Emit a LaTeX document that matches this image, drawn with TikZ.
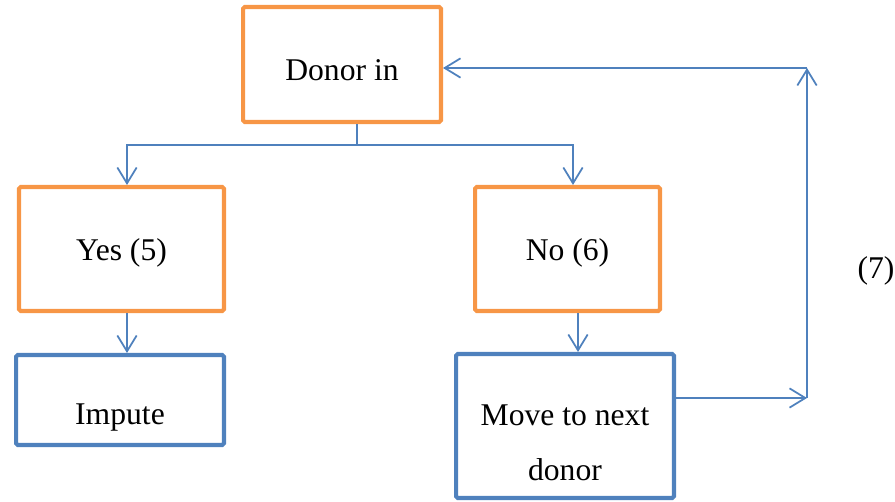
\documentclass[tikz,border=0pt]{standalone}
\usepackage{fontspec}
\setmainfont{Liberation Serif}
\usetikzlibrary{arrows.meta,positioning}
\definecolor{askorange}{RGB}{247,150,70}
\definecolor{actblue}{RGB}{79,129,189}

\begin{document}
\begin{tikzpicture}[
    x=0.02cm, y=-0.02cm,
    every node/.style={
        font=\fontsize{18}{31}\selectfont,
        align=center,
        inner sep=0pt
    },
    ask/.style={draw=askorange, line width=2.3pt, rounded corners=1pt},
    act/.style={draw=actblue, line width=2.3pt, rounded corners=1pt},
    flow/.style={draw=actblue, line width=1pt,
        -{Straight Barb[length=9pt,width=11pt,line width=1pt]}}
]
\useasboundingbox (0,0) rectangle (895,502);

% questions
\node[ask, minimum width=3.96cm, minimum height=2.3cm] (donor) at (342,64.5) {\raisebox{-9pt}[0pt][0pt]{Donor in}};
\node[ask, minimum width=4.1cm, minimum height=2.48cm] (yes) at (121.5,249) {\raisebox{-6.5pt}[0pt][0pt]{Yes (5)}};
\node[ask, minimum width=3.7cm, minimum height=2.48cm] (no) at (567.5,249) {\raisebox{-6.5pt}[0pt][0pt]{No (6)}};

% actions
\node[act, minimum width=4.16cm, minimum height=1.8cm] (impute) at (120,400) {\raisebox{-14pt}[0pt][0pt]{Impute}};
\node[act, minimum width=4.36cm, minimum height=2.88cm] (move) at (565,426) {\raisebox{-14pt}[0pt][0pt]{\parbox{4cm}{\centering Move to next\\ donor}}};

\node (loop) at (876,271) {(7)};

% connectors
\coordinate (split) at (357,145);
\coordinate (yesin) at (127,0);
\coordinate (noin) at (573,0);
\coordinate (movein) at (578,0);
\coordinate (turn) at (807,398);
\coordinate (top) at (807,68);

\draw[actblue, line width=1pt] (donor.south -| split) -- (split);
\draw[flow] (split) -| (yes.north -| yesin);
\draw[flow] (split) -| (no.north -| noin);
\draw[flow] (yes.south -| yesin) -- (impute.north -| yesin);
\draw[flow] (no.south -| movein) -- (move.north -| movein);
\draw[flow] (move.east |- turn) -- (turn);
\draw[flow] (turn) -- (top);
\draw[flow] (top) -- (donor.east |- top);
\end{tikzpicture}
\end{document}
